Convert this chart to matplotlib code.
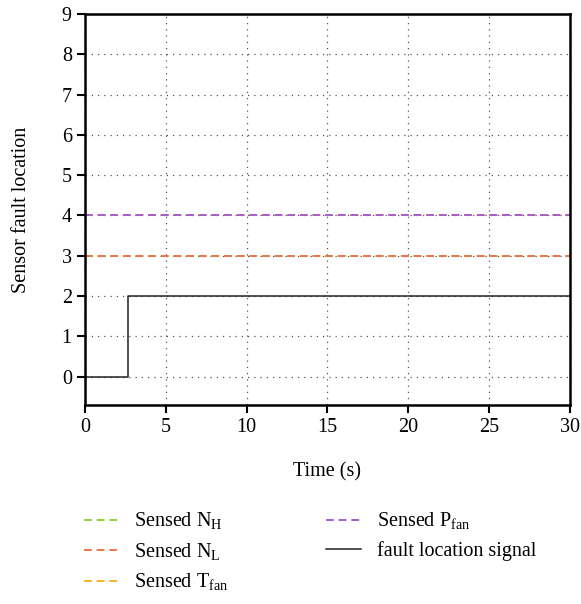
import numpy as np
import matplotlib.pyplot as plt

plt.rcParams['font.family'] = 'Liberation Serif'
plt.rcParams['mathtext.fontset'] = 'custom'
plt.rcParams['mathtext.rm'] = 'Liberation Serif'

# time axis and sensor levels
t_range = [0, 30]
level_NH = 3
level_NL = 3
level_Tfan = 4
level_Pfan = 4
fault_t = [0, 2.65, 2.65, 30]
fault_loc = [0, 0, 2, 2]

fig = plt.figure(figsize=(5.81, 6.04), dpi=100)
ax = fig.add_axes([0.1463, 0.3295, 0.8347, 0.6475])

dash = (0, (4, 2.5))
ax.plot(t_range, [level_NH] * 2, linestyle=dash, color='#8fcf3f', lw=1.4, label='Sensed N$_\\mathregular{H}$')
ax.plot(t_range, [level_NL] * 2, linestyle=dash, color='#e8784a', lw=1.4, label='Sensed N$_\\mathregular{L}$')
ax.plot(t_range, [level_Tfan] * 2, linestyle=dash, color='#f2b427', lw=1.4, label='Sensed T$_\\mathregular{fan}$')
ax.plot(t_range, [level_Pfan] * 2, linestyle=dash, color='#a95dc9', lw=1.4, label='Sensed P$_\\mathregular{fan}$')
ax.plot(fault_t, fault_loc, '-', color='#222222', lw=1.1, label='fault location signal')

ax.set_xlim(0, 30)
ax.set_ylim(-0.7, 9)
ax.set_xticks(np.arange(0, 31, 5))
ax.set_yticks(np.arange(0, 10, 1))
ax.grid(True, linestyle=(0, (1, 4)), color='#555555', lw=0.9)
ax.tick_params(direction='out', length=6, width=1.5, labelsize=14.5)
for s in ax.spines.values():
    s.set_linewidth(1.8)

ax.set_xlabel('Time (s)', fontsize=14.5, labelpad=18)
ax.set_ylabel('Sensor fault location', fontsize=14.5, labelpad=22)

fig.legend(loc='upper left', bbox_to_anchor=(0.113, 0.184), ncol=2, frameon=False,
           fontsize=14.5, handlelength=1.75, handletextpad=0.75,
           columnspacing=4.85, labelspacing=0.45)

fig.savefig('out.png', dpi=100)
